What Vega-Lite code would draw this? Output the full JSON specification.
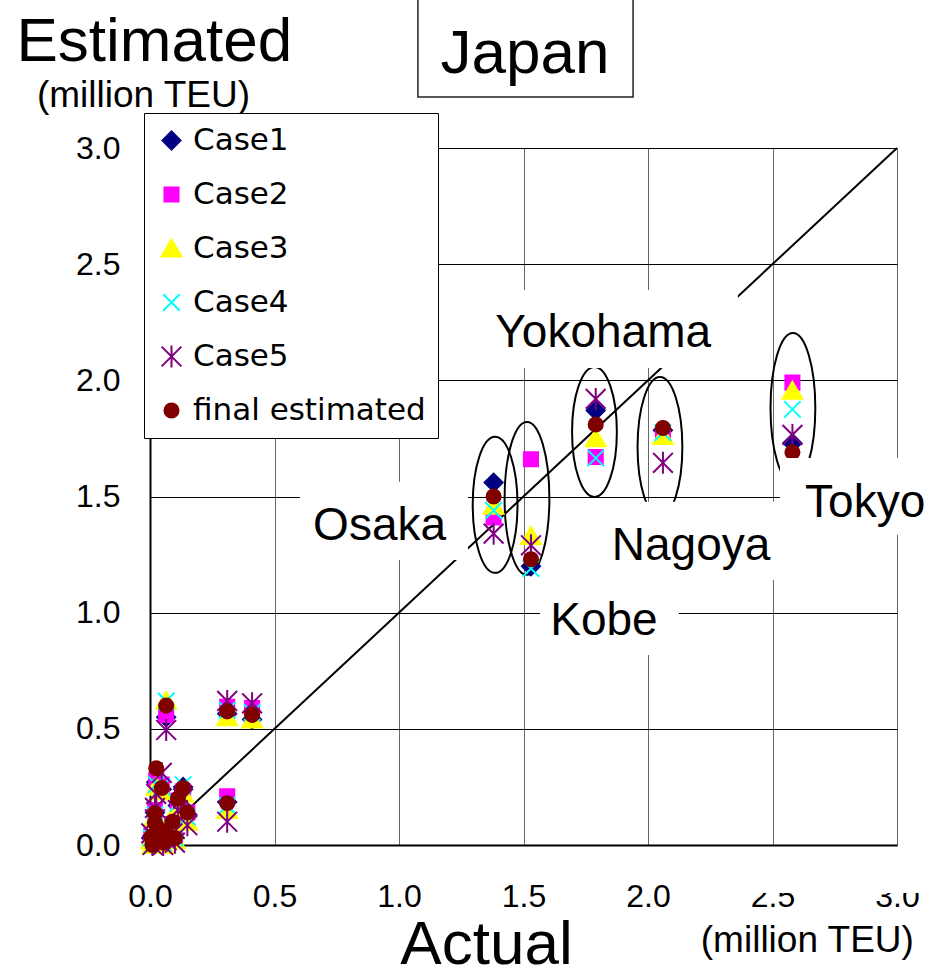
{
  "$schema": "https://vega.github.io/schema/vega-lite/v6.json",
  "width": 747,
  "height": 697,
  "autosize": {"type": "none"},
  "padding": {"left": 150, "top": 148, "right": 34, "bottom": 125},
  "background": "white",
  "config": {
    "view": {"stroke": null},
    "font": "Liberation Sans",
    "axis": {
      "labelFont": "Liberation Sans",
      "labelFontSize": 32,
      "labelColor": "black",
      "tickSize": 0,
      "grid": true,
      "domainColor": "black",
      "domainWidth": 2,
      "labelFlush": false,
      "labelOverlap": false,
      "titleFont": "Liberation Sans",
      "titleFontSize": 62,
      "titleFontWeight": "normal",
      "titleColor": "black"
    },
    "axisX": {"gridColor": "#666666", "gridWidth": 1, "labelPadding": 36},
    "axisY": {"gridColor": "#000000", "gridWidth": 1, "labelPadding": 30},
    "legend": {
      "orient": "none",
      "legendX": -6,
      "legendY": -35,
      "fillColor": "white",
      "strokeColor": "black",
      "strokeWidth": 1,
      "padding": 12,
      "rowPadding": 22,
      "symbolSize": 484,
      "symbolStrokeWidth": 2,
      "symbolOffset": 0,
      "labelFont": "DejaVu Sans",
      "labelFontSize": 31,
      "labelColor": "black",
      "labelOffset": 6,
      "labelLimit": 400
    }
  },
  "datasets": {
    "estimates": [
      {"port": "Osaka", "actual": 1.38, "Case1": 1.56, "Case2": 1.41, "Case3": 1.46, "Case4": 1.44, "Case5": 1.34, "final estimated": 1.50},
      {"port": "Kobe", "actual": 1.53, "Case1": 1.20, "Case2": 1.66, "Case3": 1.33, "Case4": 1.19, "Case5": 1.29, "final estimated": 1.23},
      {"port": "Yokohama", "actual": 1.79, "Case1": 1.87, "Case2": 1.67, "Case3": 1.75, "Case4": 1.665, "Case5": 1.92, "final estimated": 1.81},
      {"port": "Nagoya", "actual": 2.06, "Case1": 1.785, "Case2": 1.77, "Case3": 1.76, "Case4": 1.775, "Case5": 1.645, "final estimated": 1.795},
      {"port": "Tokyo", "actual": 2.58, "Case1": 1.73, "Case2": 1.99, "Case3": 1.955, "Case4": 1.875, "Case5": 1.765, "final estimated": 1.69},
      {"port": "other-01", "actual": 0.065, "Case1": 0.55, "Case2": 0.56, "Case3": 0.62, "Case4": 0.62, "Case5": 0.495, "final estimated": 0.60},
      {"port": "other-02", "actual": 0.31, "Case1": 0.565, "Case2": 0.595, "Case3": 0.55, "Case4": 0.58, "Case5": 0.62, "final estimated": 0.575},
      {"port": "other-03", "actual": 0.41, "Case1": 0.54, "Case2": 0.59, "Case3": 0.54, "Case4": 0.57, "Case5": 0.61, "final estimated": 0.56},
      {"port": "other-04", "actual": 0.31, "Case1": 0.185, "Case2": 0.21, "Case3": 0.15, "Case4": 0.17, "Case5": 0.10, "final estimated": 0.18},
      {"port": "other-05", "actual": 0.025, "Case1": 0.27, "Case2": 0.28, "Case3": 0.25, "Case4": 0.26, "Case5": 0.22, "final estimated": 0.33},
      {"port": "other-06", "actual": 0.047, "Case1": 0.24, "Case2": 0.26, "Case3": 0.23, "Case4": 0.25, "Case5": 0.31, "final estimated": 0.245},
      {"port": "other-07", "actual": 0.133, "Case1": 0.25, "Case2": 0.23, "Case3": 0.22, "Case4": 0.26, "Case5": 0.20, "final estimated": 0.245},
      {"port": "other-08", "actual": 0.112, "Case1": 0.17, "Case2": 0.19, "Case3": 0.16, "Case4": 0.18, "Case5": 0.15, "final estimated": 0.20},
      {"port": "other-09", "actual": 0.15, "Case1": 0.13, "Case2": 0.14, "Case3": 0.10, "Case4": 0.12, "Case5": 0.085, "final estimated": 0.14},
      {"port": "other-10", "actual": 0.02, "Case1": 0.14, "Case2": 0.15, "Case3": 0.12, "Case4": 0.13, "Case5": 0.16, "final estimated": 0.137},
      {"port": "other-11", "actual": 0.02, "Case1": 0.09, "Case2": 0.10, "Case3": 0.08, "Case4": 0.09, "Case5": 0.11, "final estimated": 0.095},
      {"port": "other-12", "actual": 0.04, "Case1": 0.06, "Case2": 0.07, "Case3": 0.05, "Case4": 0.06, "Case5": 0.04, "final estimated": 0.065},
      {"port": "other-13", "actual": 0.005, "Case1": 0.03, "Case2": 0.04, "Case3": 0.02, "Case4": 0.03, "Case5": 0.05, "final estimated": 0.035},
      {"port": "other-14", "actual": 0.067, "Case1": 0.05, "Case2": 0.06, "Case3": 0.03, "Case4": 0.04, "Case5": 0.02, "final estimated": 0.043},
      {"port": "other-15", "actual": 0.053, "Case1": 0.01, "Case2": 0.02, "Case3": 0.0, "Case4": 0.01, "Case5": 0.0, "final estimated": 0.01},
      {"port": "other-16", "actual": 0.09, "Case1": 0.08, "Case2": 0.09, "Case3": 0.06, "Case4": 0.07, "Case5": 0.05, "final estimated": 0.10},
      {"port": "other-17", "actual": 0.01, "Case1": 0.0, "Case2": 0.01, "Case3": 0.0, "Case4": 0.0, "Case5": 0.0, "final estimated": 0.0},
      {"port": "other-18", "actual": 0.10, "Case1": 0.03, "Case2": 0.04, "Case3": 0.02, "Case4": 0.03, "Case5": 0.01, "final estimated": 0.03}
    ],
    "groups": [
      {"port": "Osaka", "actual": 1.386, "estimated": 1.464},
      {"port": "Kobe", "actual": 1.514, "estimated": 1.492},
      {"port": "Yokohama", "actual": 1.785, "estimated": 1.778},
      {"port": "Nagoya", "actual": 2.048, "estimated": 1.713},
      {"port": "Tokyo", "actual": 2.582, "estimated": 1.881}
    ],
    "identity": [
      {"from": 0, "to": 3}
    ],
    "portLabels": [
      {"label": "Yokohama", "x": 1.82, "y": 2.144, "x0": 1.317, "x1": 2.361, "y0": 2.053, "y1": 2.389},
      {"label": "Osaka", "x": 0.922, "y": 1.313, "x0": 0.602, "x1": 1.277, "y0": 1.227, "y1": 1.563},
      {"label": "Nagoya", "x": 2.173, "y": 1.227, "x0": 1.807, "x1": 2.53, "y0": 1.141, "y1": 1.477},
      {"label": "Kobe", "x": 1.823, "y": 0.904, "x0": 1.566, "x1": 2.124, "y0": 0.818, "y1": 1.141},
      {"label": "Tokyo", "x": 2.872, "y": 1.41, "x0": 2.53, "x1": 3.137, "y0": 1.335, "y1": 1.666}
    ],
    "unitLabels": [
      {"label": "(million TEU)", "x": -0.026, "y": 3.175},
      {"label": "(million TEU)", "x": 2.64, "y": -0.46, "x0": 2.169, "x1": 3.137, "y0": -0.207, "y1": -0.013}
    ],
    "heading": [
      {"label": "Japan", "x": 1.506, "y": 3.323, "x0": 1.076, "x1": 1.94, "y0": 3.22, "y1": 3.66}
    ]
  },
  "layer": [
    {
      "data": {"name": "groups"},
      "mark": {"type": "point", "filled": false, "stroke": "black", "strokeWidth": 2, "opacity": 1, "size": 25600},
      "encoding": {
        "x": {"field": "actual", "type": "quantitative", "title": "Actual"},
        "y": {"field": "estimated", "type": "quantitative", "title": "Estimated"},
        "shape": {
          "condition": [
            {"test": "datum.port === 'Osaka'", "value": "M0,-0.85A0.28,0.85 0 1,1 0,0.85A0.28,0.85 0 1,1 0,-0.85Z"},
            {"test": "datum.port === 'Kobe'", "value": "M0,-0.956A0.28,0.956 0 1,1 0,0.956A0.28,0.956 0 1,1 0,-0.956Z"},
            {"test": "datum.port === 'Yokohama'", "value": "M0,-0.8125A0.28,0.8125 0 1,1 0,0.8125A0.28,0.8125 0 1,1 0,-0.8125Z"},
            {"test": "datum.port === 'Nagoya'", "value": "M0,-0.875A0.28,0.875 0 1,1 0,0.875A0.28,0.875 0 1,1 0,-0.875Z"}
          ],
          "value": "M0,-0.9375A0.28,0.9375 0 1,1 0,0.9375A0.28,0.9375 0 1,1 0,-0.9375Z"
        }
      }
    },
    {
      "data": {"name": "identity"},
      "mark": {"type": "rule", "color": "black", "strokeWidth": 2},
      "encoding": {
        "x": {"field": "from", "type": "quantitative", "title": "Actual"},
        "y": {"field": "from", "type": "quantitative", "title": "Estimated"},
        "x2": {"field": "to"},
        "y2": {"field": "to"}
      }
    },
    {
      "data": {"name": "estimates"},
      "transform": [
        {"fold": ["Case1", "Case2", "Case3", "Case4", "Case5", "final estimated"], "as": ["case", "estimated"]}
      ],
      "mark": {"type": "point", "filled": true, "opacity": 1, "size": 484, "strokeWidth": 2},
      "encoding": {
        "x": {
          "field": "actual", "type": "quantitative", "title": "Actual",
          "scale": {"domain": [0, 3], "nice": false, "zero": false},
          "axis": {"values": [0, 0.5, 1, 1.5, 2, 2.5, 3], "format": ".1f", "titleX": 336, "titleY": 118, "titleAlign": "center", "titleBaseline": "alphabetic", "titleAnchor": null}
        },
        "y": {
          "field": "estimated", "type": "quantitative", "title": "Estimated",
          "scale": {"domain": [0, 3], "nice": false, "zero": false},
          "axis": {"values": [0, 0.5, 1, 1.5, 2, 2.5, 3], "format": ".1f", "titleAngle": 0, "titleX": -134, "titleY": -88, "titleAlign": "left", "titleBaseline": "alphabetic", "titleAnchor": null}
        },
        "color": {
          "field": "case", "type": "nominal", "title": null,
          "scale": {"domain": ["Case1", "Case2", "Case3", "Case4", "Case5", "final estimated"], "range": ["#000080", "#FF00FF", "#FFFF00", "#00FFFF", "#800080", "#800000"]}
        },
        "stroke": {
          "field": "case", "type": "nominal", "title": null,
          "scale": {"domain": ["Case1", "Case2", "Case3", "Case4", "Case5", "final estimated"], "range": ["#000080", "#FF00FF", "#FFFF00", "#00FFFF", "#800080", "#800000"]}
        },
        "shape": {
          "field": "case", "type": "nominal", "title": null,
          "scale": {
            "domain": ["Case1", "Case2", "Case3", "Case4", "Case5", "final estimated"],
            "range": [
              "M-0.82,0L0,-0.82L0.82,0L0,0.82Z",
              "M-0.64,-0.64H0.64V0.64H-0.64Z",
              "M0,-0.82L0.9,0.72L-0.9,0.72Z",
              "M-0.75,-0.75L0.75,0.75M-0.75,0.75L0.75,-0.75",
              "M-0.9,-0.9L0.9,0.9M-0.9,0.9L0.9,-0.9M0,-1L0,1",
              "M0.64,0A0.64,0.64 0 1,1 -0.64,0A0.64,0.64 0 1,1 0.64,0Z"
            ]
          }
        },
        "order": {"field": "case", "type": "nominal"}
      }
    },
    {
      "data": {"name": "portLabels"},
      "mark": {"type": "rect", "fill": "white", "stroke": null},
      "encoding": {
        "x": {"field": "x0", "type": "quantitative", "title": "Actual"},
        "x2": {"field": "x1"},
        "y": {"field": "y0", "type": "quantitative", "title": "Estimated"},
        "y2": {"field": "y1"}
      }
    },
    {
      "data": {"name": "unitLabels"},
      "transform": [{"filter": "isValid(datum.x0)"}],
      "mark": {"type": "rect", "fill": "white", "stroke": null},
      "encoding": {
        "x": {"field": "x0", "type": "quantitative", "title": "Actual"},
        "x2": {"field": "x1"},
        "y": {"field": "y0", "type": "quantitative", "title": "Estimated"},
        "y2": {"field": "y1"}
      }
    },
    {
      "data": {"name": "heading"},
      "mark": {"type": "rect", "fill": "white", "stroke": "#222222", "strokeWidth": 1.5},
      "encoding": {
        "x": {"field": "x0", "type": "quantitative", "title": "Actual"},
        "x2": {"field": "x1"},
        "y": {"field": "y0", "type": "quantitative", "title": "Estimated"},
        "y2": {"field": "y1"}
      }
    },
    {
      "data": {"name": "portLabels"},
      "mark": {"type": "text", "font": "Liberation Sans", "fontSize": 46, "color": "black", "align": "center", "baseline": "alphabetic"},
      "encoding": {
        "x": {"field": "x", "type": "quantitative", "title": "Actual"},
        "y": {"field": "y", "type": "quantitative", "title": "Estimated"},
        "text": {"field": "label"}
      }
    },
    {
      "data": {"name": "unitLabels"},
      "mark": {"type": "text", "font": "Liberation Sans", "fontSize": 37, "color": "black", "align": "center", "baseline": "alphabetic"},
      "encoding": {
        "x": {"field": "x", "type": "quantitative", "title": "Actual"},
        "y": {"field": "y", "type": "quantitative", "title": "Estimated"},
        "text": {"field": "label"}
      }
    },
    {
      "data": {"name": "heading"},
      "mark": {"type": "text", "font": "Liberation Sans", "fontSize": 62, "color": "black", "align": "center", "baseline": "alphabetic"},
      "encoding": {
        "x": {"field": "x", "type": "quantitative", "title": "Actual"},
        "y": {"field": "y", "type": "quantitative", "title": "Estimated"},
        "text": {"field": "label"}
      }
    }
  ]
}
